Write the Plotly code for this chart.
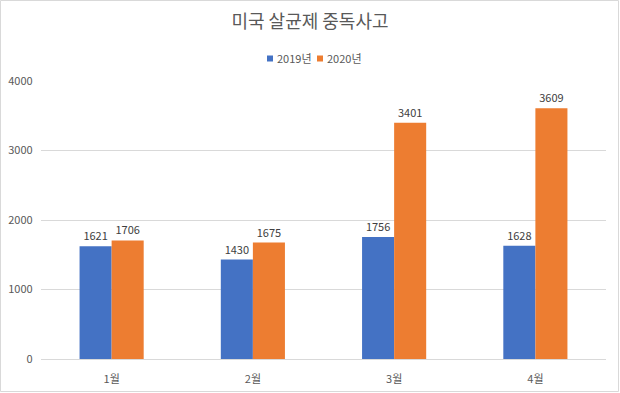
import plotly.graph_objects as go

categories = ["1월", "2월", "3월", "4월"]
series_2019 = [1621, 1430, 1756, 1628]
series_2020 = [1706, 1675, 3401, 3609]
names = ["2019년", "2020년"]
colors = ["#4472C4", "#ED7D31"]

W, H = 620, 393
ml, mr, mt, mb = 41, 14, 81, 34
pw, ph = W - ml - mr, H - mt - mb

font = "Malgun Gothic, Noto Sans CJK KR, sans-serif"

fig = go.Figure()
for name, vals, c in zip(names, [series_2019, series_2020], colors):
    fig.add_trace(go.Bar(
        x=categories, y=vals, name=name, marker_color=c,
        marker_line_width=0, showlegend=False,
        text=[str(v) for v in vals], textposition="outside",
        textfont=dict(size=11, color="#404040", family=font),
        cliponaxis=False,
    ))

def px_x(p):
    return (p - ml) / pw

def px_y(p):
    return (H - mb - p) / ph

shapes = [dict(type="rect", xref="paper", yref="paper",
               x0=px_x(0.5), x1=px_x(618.5), y0=px_y(391.5), y1=px_y(0.5),
               line=dict(color="#D9D9D9", width=1), layer="below")]
annotations = []
legend_sq_x = [267, 317]
for name, c, sx in zip(names, colors, legend_sq_x):
    shapes.append(dict(type="rect", xref="paper", yref="paper",
                       x0=px_x(sx), x1=px_x(sx + 6), y0=px_y(61.5), y1=px_y(55.5),
                       fillcolor=c, line=dict(width=0)))
    annotations.append(dict(text=name, xref="paper", yref="paper",
                            x=px_x(sx + 7.5), y=px_y(58), xanchor="left", yanchor="middle",
                            showarrow=False, font=dict(size=11, color="#595959", family=font)))

fig.update_layout(
    width=W, height=H,
    margin=dict(l=ml, r=mr, t=mt, b=mb, autoexpand=False),
    paper_bgcolor="white", plot_bgcolor="white",
    barmode="group", bargap=0.546, bargroupgap=0,
    font=dict(family=font, color="#595959", size=11),
    showlegend=False,
    title=dict(text="미국 살균제 중독사고", x=0.5, xanchor="center",
               y=1 - 22 / H, yanchor="middle",
               font=dict(size=18, color="#595959", family=font)),
    xaxis=dict(showgrid=False, showline=True, linecolor="#D9D9D9",
               ticks="", tickfont=dict(size=11, color="#595959"), automargin=False,
               ticklabelstandoff=10),
    yaxis=dict(range=[0, 4000], dtick=1000, showgrid=True,
               gridcolor="#D9D9D9", zeroline=False, showline=False,
               tickfont=dict(size=11, color="#595959"), ticksuffix="   ",
               automargin=False),
    shapes=shapes,
    annotations=annotations,
)

fig.write_html("out.html", config={"displayModeBar": False},
               post_script="document.body.style.margin='0';document.body.style.overflow='hidden';")
